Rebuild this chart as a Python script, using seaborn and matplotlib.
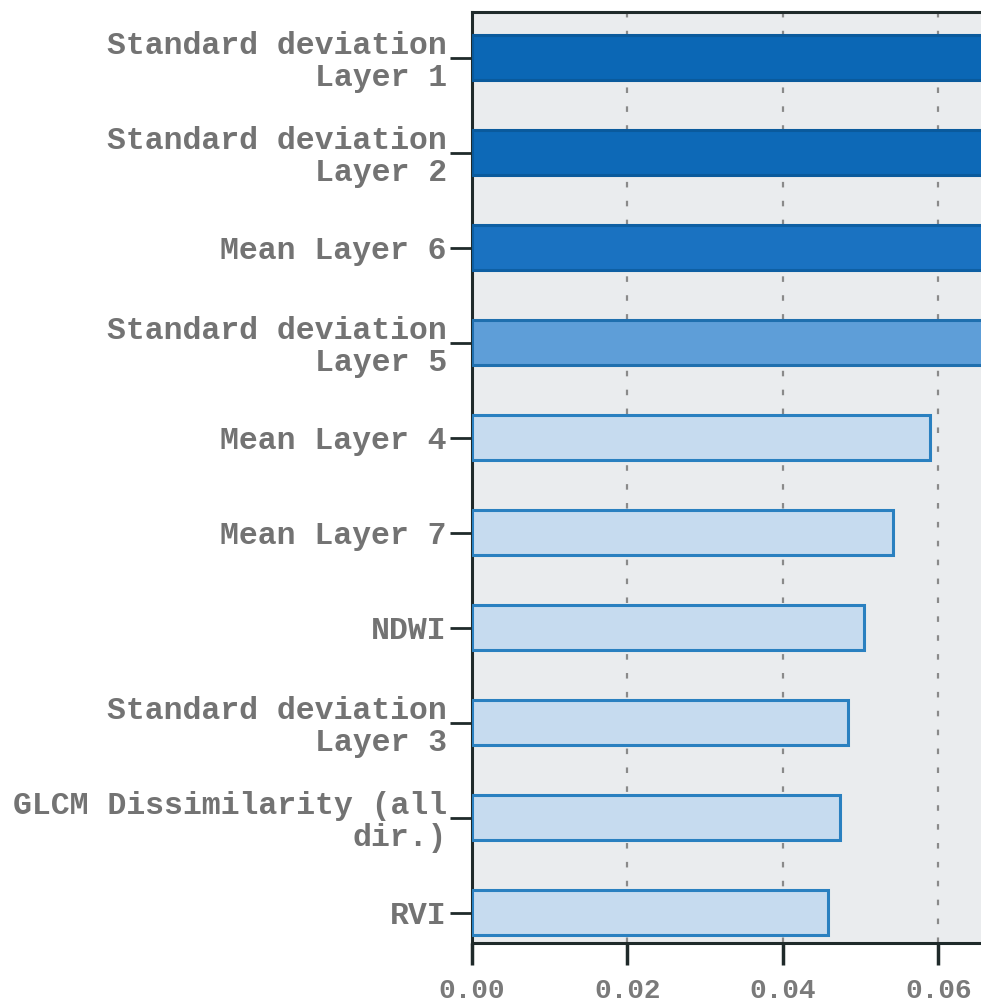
import matplotlib
matplotlib.use("Agg")
import matplotlib.pyplot as plt
import seaborn as sns
import pandas as pd

# feature names (top to bottom) and importance values
features = [
    "Standard deviation\nLayer 1",
    "Standard deviation\nLayer 2",
    "Mean Layer 6",
    "Standard deviation\nLayer 5",
    "Mean Layer 4",
    "Mean Layer 7",
    "NDWI",
    "Standard deviation\nLayer 3",
    "GLCM Dissimilarity (all\ndir.)",
    "RVI",
]
importance = [0.095, 0.088, 0.080, 0.072, 0.0589, 0.0542, 0.0505, 0.0484, 0.0473, 0.0458]
xticks = [0.00, 0.02, 0.04, 0.06]
xtick_labels = ["0.00", "0.02", "0.04", "0.06"]

fill_colors = ["#0b67b5", "#0d69b7", "#1a72c1", "#5e9ed8"] + ["#c6dbef"] * 6
edge_colors = ["#0a5a9c", "#0a5a9c", "#0e5fa3", "#1f6fae"] + ["#2a80c0"] * 6

df = pd.DataFrame({"feature": features, "importance": importance})

sns.set_style("white")
plt.rcParams["font.family"] = ["Liberation Mono", "DejaVu Sans"]

fig = plt.figure(figsize=(9.81, 10.07), dpi=100)
ax = fig.add_axes([0.481, 0.0636, 0.519, 0.9244])
ax.set_facecolor("#eaecee")

sns.barplot(data=df, y="feature", x="importance", hue="feature",
            palette=fill_colors, orient="h", width=0.47, legend=False,
            saturation=1, ax=ax, zorder=3)
for patch, ec in zip(ax.patches, edge_colors):
    patch.set_edgecolor(ec)
    patch.set_linewidth(2.2)

ax.set_xlim(0, 0.0655)
ax.set_ylim(9.32, -0.48)
ax.set_xticks(xticks)
ax.set_xticklabels(xtick_labels)
ax.set_xlabel("")
ax.set_ylabel("")

# dashed vertical grid
for x in xticks[1:]:
    ax.axvline(x, color="#8a8a8a", linestyle=(0, (2.5, 6)), linewidth=1.6, zorder=1)

for side in ["left", "bottom", "top"]:
    ax.spines[side].set_visible(True)
    ax.spines[side].set_color("#1f2a2a")
    ax.spines[side].set_linewidth(2.2)
ax.spines["right"].set_visible(False)

ax.tick_params(axis="y", length=16, width=2, color="#1f2a2a", pad=2,
               labelsize=22.7, labelcolor="#737373", left=True)
ax.tick_params(axis="x", length=16, width=2.5, color="#1f2a2a", pad=9,
               labelsize=20, labelcolor="#7a7a7a", bottom=True)
for lab in ax.get_yticklabels() + ax.get_xticklabels():
    lab.set_fontweight("bold")
    lab.set_linespacing(1.1)

fig.savefig("out.png", dpi=100, facecolor="white")
